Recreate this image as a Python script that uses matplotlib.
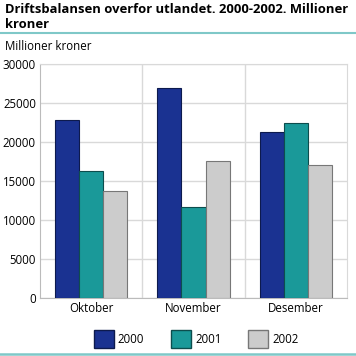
import matplotlib
matplotlib.use("Agg")
import matplotlib.pyplot as plt
import numpy as np
from matplotlib.patches import Patch
from matplotlib.lines import Line2D

plt.rcParams['font.family'] = ['Open Sans', 'DejaVu Sans']

categories = ["Oktober", "November", "Desember"]
years = ["2000", "2001", "2002"]
values_2000 = [22800, 26900, 21300]
values_2001 = [16300, 11700, 22500]
values_2002 = [13700, 17600, 17100]
yticks = [0, 5000, 10000, 15000, 20000, 25000, 30000]

colors = ["#1a3291", "#1a9999", "#cccccc"]
edges = ["#0d1a4d", "#0d4d4d", "#777777"]

fig = plt.figure(figsize=(3.56, 3.56), dpi=100)
ax = fig.add_axes([40/356, 1-298/356, 307/356, 234/356])

x = np.arange(len(categories))
w = 0.235
for i, vals in enumerate([values_2000, values_2001, values_2002]):
    ax.bar(x + (i - 1) * w, vals, width=w, color=colors[i], edgecolor=edges[i], linewidth=0.8, zorder=3)

ax.set_xlim(-0.5, 2.5)
ax.set_ylim(0, 30000)
ax.set_yticks(yticks)
ax.set_yticklabels([str(v) for v in yticks], fontsize=8.3)
ax.set_xticks(x)
ax.set_xticklabels(categories, fontsize=8.3)
ax.tick_params(length=0, pad=3)
ax.grid(axis='y', color='#d9d9d9', linewidth=1, zorder=0)
for xv in [0.5, 1.5]:
    ax.axvline(xv, color='#d9d9d9', linewidth=1, zorder=0)
for s in ['top', 'right']:
    ax.spines[s].set_color('#d9d9d9')
ax.spines['left'].set_color('#bbbbbb')
ax.spines['bottom'].set_color('#bbbbbb')

fig.text(5/356, 1-3/356, "Driftsbalansen overfor utlandet. 2000-2002. Millioner\nkroner",
         fontsize=9.4, fontweight='bold', va='top', ha='left', linespacing=1.2)
fig.add_artist(Line2D([0, 1], [1-33/356, 1-33/356], color='#7fc8c8', linewidth=1.5))
fig.text(5/356, 1-46/356, "Millioner kroner", fontsize=8.3, va='center', ha='left')
fig.add_artist(Line2D([0, 1], [1-353.5/356, 1-353.5/356], color='#7fc8c8', linewidth=1.8))

handles = [Patch(facecolor=colors[i], edgecolor=edges[i], label=years[i]) for i in range(3)]
fig.legend(handles=handles, loc='center', bbox_to_anchor=(196/356, 1-339/356), ncol=3,
           frameon=False, fontsize=8.3, handlelength=1.75, handleheight=2.0, columnspacing=2.3, handletextpad=0.35)

fig.savefig("out.png", dpi=100)
